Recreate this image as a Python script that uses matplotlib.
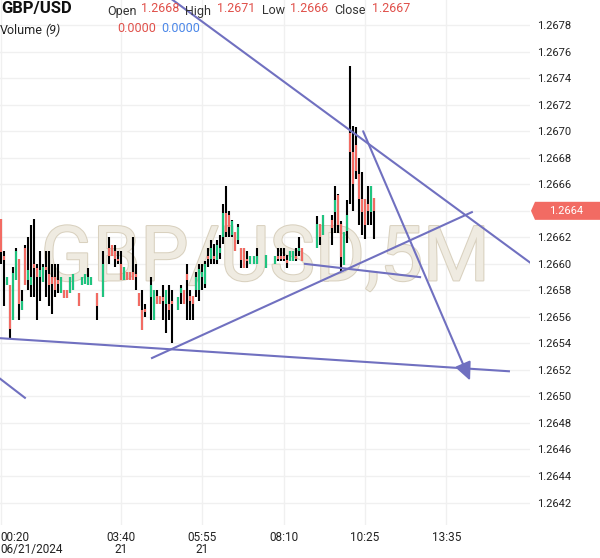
import numpy as np
import matplotlib.pyplot as plt
import matplotlib.patheffects as pe
from matplotlib.patches import Polygon
from matplotlib.transforms import blended_transform_factory

plt.rcParams['font.family'] = ['Roboto', 'DejaVu Sans']

nan = np.nan

# GBP/USD 5 minute bars, bar 0 = 00:20 on 06/21/2024 (nan = no bar drawn)
opens = [1.26634, 1.26606, 1.26584, 1.26584, 1.26558, 1.26588, 1.26604, 1.26565, 1.26612, 1.26588,
         1.26584, 1.26600, 1.26597, 1.26590, 1.26586, 1.26598, 1.26592, 1.26590, 1.26590, 1.26588,
         1.26578, 1.26580, 1.26580, 1.26578, 1.26580, nan, 1.26578, 1.26584, 1.26585, 1.26584,
         1.26584, nan, 1.26578, nan, 1.26575, nan, 1.26612, 1.26614, 1.26610, 1.26604,
         1.26600, 1.26588, 1.26594, 1.26594, 1.26594, 1.26592, 1.26578, 1.26565, 1.26566, nan,
         1.26575, 1.26558, 1.26576, 1.26576, 1.26575, 1.26570, 1.26570, 1.26572, nan, 1.26565,
         1.26578, 1.26580, 1.26592, 1.26576, 1.26576, 1.26580, 1.26580, 1.26590, 1.26585, 1.26606,
         1.26604, 1.26606, 1.26603, 1.26608, 1.26620, 1.26638, 1.26637, 1.26622, 1.26624, 1.26618,
         1.26612, 1.26612, 1.26604, 1.26600, 1.26600, 1.26600, nan, nan, 1.26597, nan,
         nan, 1.26600, 1.26606, 1.26606, 1.26606, 1.26603, 1.26602, 1.26602, 1.26606, 1.26610,
         1.26612, nan, nan, nan, nan, 1.26612, 1.26630, 1.26622, nan, nan,
         1.26633, 1.26639, 1.26652, 1.26630, 1.26599, 1.26625, 1.26699, 1.26684, 1.26690, 1.26668,
         1.26649, 1.26649, 1.26645, 1.26639, 1.26650]
highs = [1.26634, 1.26610, 1.26590, 1.26584, 1.26598, 1.26612, 1.26604, 1.26580, 1.26614, 1.26620,
         1.26629, 1.26634, 1.26600, 1.26610, 1.26600, 1.26610, 1.26610, 1.26600, 1.26600, 1.26600,
         1.26590, 1.26580, 1.26580, 1.26590, 1.26592, nan, 1.26578, 1.26590, 1.26592, 1.26597,
         1.26590, nan, 1.26578, nan, 1.26610, nan, 1.26620, 1.26614, 1.26614, 1.26610,
         1.26610, 1.26598, 1.26594, 1.26594, 1.26620, 1.26600, 1.26578, 1.26580, 1.26570, nan,
         1.26590, 1.26580, 1.26580, 1.26576, 1.26584, 1.26580, 1.26584, 1.26580, nan, 1.26575,
         1.26584, 1.26580, 1.26600, 1.26580, 1.26576, 1.26594, 1.26600, 1.26600, 1.26602, 1.26612,
         1.26618, 1.26615, 1.26618, 1.26622, 1.26645, 1.26659, 1.26640, 1.26633, 1.26624, 1.26630,
         1.26612, 1.26612, 1.26610, 1.26606, 1.26606, 1.26612, nan, nan, 1.26607, nan,
         nan, 1.26606, 1.26612, 1.26612, 1.26612, 1.26607, 1.26610, 1.26610, 1.26612, 1.26620,
         1.26612, nan, nan, nan, nan, 1.26636, 1.26630, 1.26637, nan, nan,
         1.26637, 1.26659, 1.26653, 1.26632, 1.26624, 1.26648, 1.26749, 1.26704, 1.26703, 1.26680,
         1.26669, 1.26649, 1.26659, 1.26659, 1.26650]
lows = [1.26600, 1.26568, 1.26584, 1.26543, 1.26558, 1.26588, 1.26558, 1.26565, 1.26584, 1.26580,
        1.26575, 1.26575, 1.26558, 1.26572, 1.26586, 1.26575, 1.26568, 1.26562, 1.26575, 1.26578,
        1.26578, 1.26574, 1.26574, 1.26578, 1.26580, nan, 1.26568, 1.26584, 1.26585, 1.26584,
        1.26584, nan, 1.26558, nan, 1.26575, nan, 1.26600, 1.26606, 1.26598, 1.26600,
        1.26588, 1.26588, 1.26588, 1.26588, 1.26588, 1.26580, 1.26568, 1.26550, 1.26560, nan,
        1.26558, 1.26558, 1.26570, 1.26570, 1.26558, 1.26548, 1.26558, 1.26540, nan, 1.26565,
        1.26570, 1.26570, 1.26558, 1.26558, 1.26558, 1.26575, 1.26572, 1.26580, 1.26582, 1.26598,
        1.26600, 1.26600, 1.26600, 1.26604, 1.26615, 1.26620, 1.26620, 1.26620, 1.26610, 1.26615,
        1.26597, 1.26597, 1.26597, 1.26600, 1.26600, 1.26600, nan, nan, 1.26597, nan,
        nan, 1.26600, 1.26602, 1.26602, 1.26602, 1.26597, 1.26602, 1.26602, 1.26602, 1.26606,
        1.26602, nan, nan, nan, nan, 1.26612, 1.26614, 1.26622, nan, nan,
        1.26614, 1.26623, 1.26623, 1.26594, 1.26599, 1.26616, 1.26645, 1.26640, 1.26664, 1.26629,
        1.26622, 1.26619, 1.26629, 1.26629, 1.26619]
closes = [1.26609, 1.26603, 1.26590, 1.26551, 1.26593, 1.26610, 1.26570, 1.26572, 1.26584, 1.26595,
          1.26590, 1.26597, 1.26590, 1.26595, 1.26598, 1.26595, 1.26584, 1.26585, 1.26580, 1.26585,
          1.26590, 1.26574, 1.26574, 1.26590, 1.26592, nan, 1.26568, 1.26590, 1.26592, 1.26590,
          1.26590, nan, 1.26568, nan, 1.26600, nan, 1.26606, 1.26606, 1.26604, 1.26602,
          1.26588, 1.26598, 1.26588, 1.26588, 1.26588, 1.26590, 1.26568, 1.26550, 1.26564, nan,
          1.26584, 1.26580, 1.26570, 1.26570, 1.26572, 1.26580, 1.26565, 1.26570, nan, 1.26575,
          1.26582, 1.26570, 1.26588, 1.26572, 1.26570, 1.26590, 1.26596, 1.26594, 1.26600, 1.26604,
          1.26612, 1.26604, 1.26614, 1.26612, 1.26638, 1.26624, 1.26628, 1.26632, 1.26610, 1.26628,
          1.26603, 1.26597, 1.26602, 1.26606, 1.26606, 1.26606, nan, nan, 1.26607, nan,
          nan, 1.26606, 1.26604, 1.26604, 1.26604, 1.26601, 1.26610, 1.26610, 1.26604, 1.26612,
          1.26602, nan, nan, nan, nan, 1.26630, 1.26620, 1.26637, nan, nan,
          1.26627, 1.26648, 1.26629, 1.26605, 1.26624, 1.26637, 1.26684, 1.26660, 1.26670, 1.26649,
          1.26639, 1.26629, 1.26640, 1.26659, 1.26640]

tick_pos = [0, 40, 67, 94, 121, 148]
tick_labels = ["00:20\n06/21/2024", "03:40\n21", "05:55\n21", "08:10", "10:25", "13:35"]
price_ticks = np.arange(1.2642, 1.26781, 0.0002)

# hand drawn trend lines: (bar, price) pairs
trend_lines = [
    [(50.0, 1.26811), (180.0, 1.26594)],
    [(50.3, 1.26529), (156.5, 1.26639)],
    [(101.1, 1.26600), (139.3, 1.26590)],
    [(-0.5, 1.26544), (168.8, 1.26519)],
    [(-0.5, 1.26514), (8.1, 1.26499)],
]
arrow_line = [(120.4, 1.26700), (155.9, 1.26512)]

green = "#1fc47f"
red = "#f26b63"
line_col = "#7070c0"

o = np.array(opens, dtype=float)
h = np.array(highs, dtype=float)
l = np.array(lows, dtype=float)
c = np.array(closes, dtype=float)
x = np.arange(len(o))
ok = ~np.isnan(o)
up = ok & (c >= o)
down = ok & (c < o)
last = c[ok][-1]

fig = plt.figure(figsize=(6, 5.58), dpi=100)
ax = fig.add_axes([0, 0.059, 530 / 600, 0.941])

ax.text(0.5, 0.505, "GBP/USD,5M", transform=ax.transAxes, ha='center', va='center',
        fontsize=55, color='#efebe1', zorder=1,
        path_effects=[pe.withStroke(linewidth=1.5, foreground='#d9d1bf')])

ax.vlines(x[ok], l[ok], h[ok], color='black', lw=1.5, zorder=3)
ax.vlines(x[up], o[up], c[up], color=green, lw=1.5, zorder=4)
ax.vlines(x[down], c[down], o[down], color=red, lw=1.5, zorder=4)

for (x0, y0), (x1, y1) in trend_lines:
    ax.plot([x0, x1], [y0, y1], color=line_col, lw=1.5, zorder=5)
ax.annotate('', xy=arrow_line[1], xytext=arrow_line[0],
            arrowprops=dict(arrowstyle='-|>,head_length=0.6,head_width=0.28', color=line_col,
                            lw=1.5, mutation_scale=18, shrinkA=0, shrinkB=0), zorder=5)

ax.set_xlim(-0.17, 175.8)
ax.set_ylim(1.26403, 1.26799)
ax.set_xticks(tick_pos)
ax.set_xticklabels(tick_labels, fontsize=8.5, color='#222222', linespacing=0.95)
ax.get_xticklabels()[0].set_ha('left')
ax.set_yticks(price_ticks)
# the label under the last price tag is hidden by the tag
ax.set_yticklabels(["" if abs(p - last) < 0.0001 else "%.4f" % p for p in price_ticks],
                   fontsize=8, color='#222222')
ax.yaxis.tick_right()
ax.tick_params(axis='both', length=0)
ax.tick_params(axis='y', pad=5)
ax.tick_params(axis='x', pad=4)
ax.grid(color='#f0f0f0', lw=1)
ax.set_axisbelow(True)
for s in ax.spines.values():
    s.set_visible(False)

# last price tag on the price axis
tr = blended_transform_factory(fig.transFigure, ax.transData)
hh = 0.000068
tag = Polygon([(531 / 600, last), (535 / 600, last + hh), (1.0, last + hh),
               (1.0, last - hh), (535 / 600, last - hh)], closed=True,
              transform=tr, facecolor=red, edgecolor='none', clip_on=False, zorder=10)
fig.add_artist(tag)
fig.text(566 / 600, last, "%.4f" % last, transform=tr, ha='center', va='center',
         fontsize=8, color='white', zorder=11)

# header
def ftxt(px, py, s, **kw):
    fig.text(px / 600, 1 - py / 558, s, va='center', **kw)

ftxt(1, 9, "GBP/USD", fontsize=12, fontweight='bold', color='#111111')
ftxt(107, 11, "Open", fontsize=9, color='#333333')
ftxt(141, 9, "1.2668", fontsize=9, color='#e0504a')
ftxt(185, 11, "High", fontsize=9, color='#333333')
ftxt(217, 9, "1.2671", fontsize=9, color='#e0504a')
ftxt(262, 11, "Low", fontsize=9, color='#333333')
ftxt(290, 9, "1.2666", fontsize=9, color='#e0504a')
ftxt(334, 11, "Close", fontsize=9, color='#333333')
ftxt(372, 9, "1.2667", fontsize=9, color='#e0504a')
ftxt(0, 30, "Volume", fontsize=9, color='#222222')
ftxt(45, 30, "(9)", fontsize=9, color='#222222', style='italic')
ftxt(117, 29, "0.0000", fontsize=9, color='#e0504a')
ftxt(161, 29, "0.0000", fontsize=9, color='#4a86e8')

fig.savefig("out.png", dpi=100)
